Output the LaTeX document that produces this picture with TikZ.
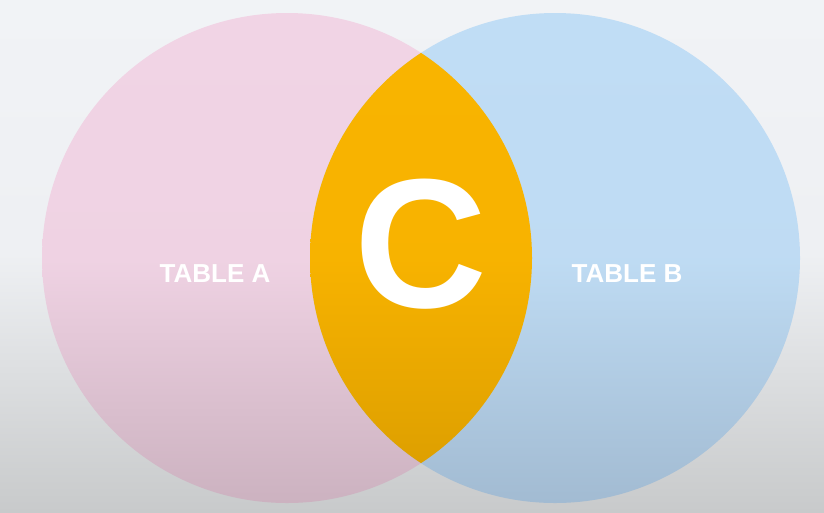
\documentclass[tikz,border=0pt]{standalone}
\usepackage{fontspec}
\setmainfont{Liberation Sans}
\definecolor{bgtop}{HTML}{F1F3F6}
\definecolor{bgbot}{HTML}{C8CACB}
\definecolor{pinktop}{HTML}{F1D4E5}
\definecolor{pinkbot}{HTML}{CCB2C0}
\definecolor{bluetop}{HTML}{C0DDF5}
\definecolor{bluebot}{HTML}{A2BBD2}
\definecolor{orgtop}{HTML}{F9B400}
\definecolor{orgbot}{HTML}{D99C00}
\tikzset{
  lbl/.style={text=white, font=\bfseries\fontsize{26}{30}\selectfont, inner sep=0pt},
  biglbl/.style={text=white, font=\bfseries\fontsize{184}{190}\selectfont, inner sep=0pt},
}
\begin{document}
\begin{tikzpicture}[x=1pt,y=-1pt]
\useasboundingbox (0,0) rectangle (824,512);
\shade[top color=bgtop, bottom color=bgbot, middle color=bgtop!92!bgbot] (0,0) rectangle (824,512);
\shade[top color=pinktop, bottom color=pinkbot, middle color=pinktop!95!pinkbot] (287,258) circle[radius=245];
\shade[top color=bluetop, bottom color=bluebot, middle color=bluetop!95!bluebot] (555,258) circle[radius=245];
\begin{scope}
  \clip (287,258) circle[radius=245];
  \shade[top color=orgtop, bottom color=orgbot, middle color=orgtop!95!orgbot] (555,258) circle[radius=245];
\end{scope}
\node[lbl] (ta) at (215,274) {TABLE A};
\node[lbl] (tb) at (627,274) {TABLE B};
\node[biglbl] (c) at (421,244) {C};
\end{tikzpicture}
\end{document}
